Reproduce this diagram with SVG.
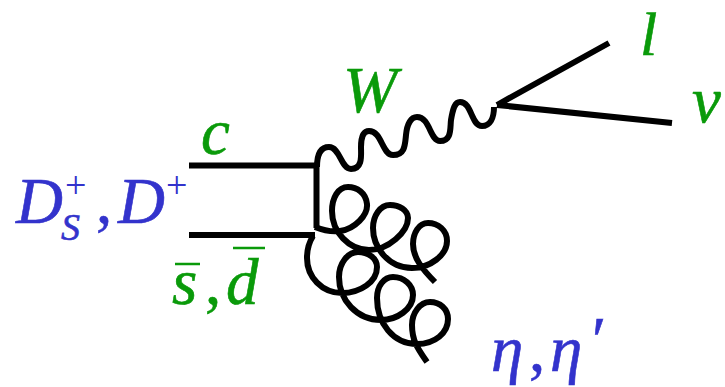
<svg xmlns="http://www.w3.org/2000/svg" width="725" height="387" viewBox="0 0 725 387">
<style>
.t{font-family:"Liberation Serif","Times New Roman",serif;font-style:italic;font-size:65px;stroke-width:.6}
.u{font-family:"Liberation Serif","Times New Roman",serif;font-size:38px}
.g{fill:#0a9a0a;stroke:#0a9a0a}.b{fill:#3333cc;stroke:#3333cc}
.u.b{stroke:none}
.l{fill:none;stroke:#000;stroke-width:6;stroke-linecap:butt;stroke-linejoin:round}
</style>
<rect width="725" height="387" fill="#fff"/>
<g id="connectors">
<path class="l" d="M189,165.500H317M189,235H315M316.500,165V228"/>
<path class="l" d="M317,167C317,154 321,147 329,147C340,147 341,169 351,169C363,169 361,155 361,147C361,137 363,131 369,131C382,131 382,155 393,155C405,155 405,145 406,135C407,124 411,117 417,117C430,117 430,141 440,141C452,141 450,128 451,120C453,108 455,102 460,102C472,102 471,126 482,126C490,126 494,118 494,107"/>
<path class="l" d="M497,105L609,43M497,105L672,123"/>
<path class="l" d="M315,227C325,231 333,232 340,231C355,229 368,215 367,204C366,193 357,187 348,187C338,187 332,198 332,211C332,232 349,250 369,250C388,250 408,232 408,218C408,210 399,205 390,205C380,205 373,216 373,228C373,247 388,268 412,268C430,268 447,255 447,241C447,230 438,223 428,223C419,223 413,233 413,244C413,258 423,270 435,282"/>
<path class="l" d="M313,236C308,244 307,251 307,258C307,277 322,293 342,293C360,293 377,282 377,267C377,258 368,252 358,252C348,252 339,263 339,277C339,300 357,320 381,320C397,320 413,309 413,295C413,285 404,277 393,277C384,277 377,286 377,298C377,323 393,344 417,344C435,344 448,333 448,319C448,309 440,302 430,302C420,302 412,313 412,325C412,341 418,349 427,362"/>
</g>
<g id="meson-label">
<text class="t b" x="16" y="223">D</text>
<text class="u b" x="65" y="198">+</text>
<text class="t b" x="61" y="240" style="font-size:38px">S</text>
<text class="t b" x="96" y="223" style="font-style:normal">,</text>
<text class="t b" x="118" y="223">D</text>
<text class="u b" x="166" y="198">+</text>
</g>
<g id="c-label"><text class="t g" x="201" y="154">c</text></g>
<g id="antiquark-label">
<text class="t g" x="172" y="304">s</text>
<text class="t g" x="205" y="304" style="font-style:normal">,</text>
<text class="t g" x="226" y="304">d</text>
<path d="M175,264H200M233,248H265" stroke="#0a9a0a" stroke-width="2.500" fill="none"/>
</g>
<g id="w-label"><text class="t g" x="343" y="112">W</text></g>
<g id="l-label"><text class="t g" x="640" y="55" style="font-size:62px">l</text></g>
<g id="nu-label"><text class="t g" x="692" y="122">ν</text></g>
<g id="eta-label">
<text class="t b" x="491" y="371">η</text>
<text class="t b" x="529" y="371" style="font-style:normal">,</text>
<text class="t b" x="550" y="371">η</text>
<text class="t b" x="588" y="362">′</text>
</g>
</svg>
